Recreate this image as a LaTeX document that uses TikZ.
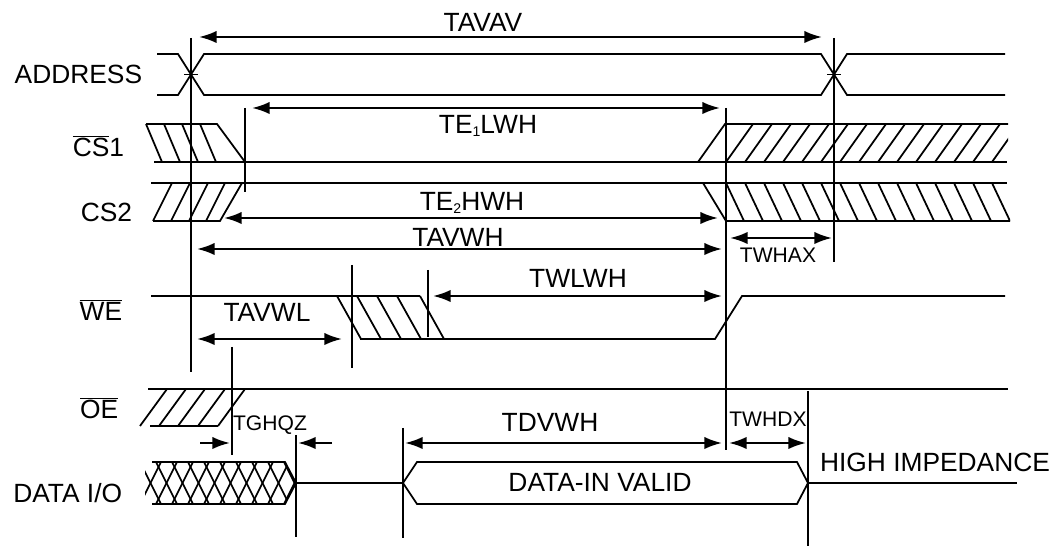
\documentclass[tikz,border=0pt]{standalone}
\usepackage{fontspec}
\setmainfont{Liberation Sans}
\usetikzlibrary{arrows.meta}
\newcommand{\tsub}[1]{\raisebox{-1.5pt}{\fontsize{8}{8}\selectfont #1}}
\begin{document}
\begin{tikzpicture}[>={Latex[length=10pt,width=7pt]}, x=0.02cm, y=-0.02cm, line width=1pt,
    lbl/.style={inner sep=0pt, font=\fontsize{15}{18}\selectfont},
    sml/.style={inner sep=0pt, font=\fontsize{12}{14}\selectfont},
    dim/.style={line width=1.3pt}]
\useasboundingbox (0,0) rectangle (1061,546);
% signal names
\node[lbl, anchor=east] (addr) at (143,74) {ADDRESS};
\node[lbl, anchor=east] (cs1) at (125,146) {$\overline{\mbox{CS}}$1};
\node[lbl, anchor=east] (cs2) at (133,212) {CS2};
\node[lbl, anchor=east] (we) at (123,310) {$\overline{\mbox{WE}}$};
\node[lbl, anchor=east] (oe) at (119,408) {$\overline{\mbox{OE}}$};
\node[lbl, anchor=east] (dio) at (123,493) {DATA I/O};
% ADDRESS
\draw (157,54)--(178,54)--(204,95)--(821,95)--(847,54)--(1005,54);
\draw (157,95)--(178,95)--(204,54)--(821,54)--(847,95)--(1005,95);
\draw (184,74.5)--(198,74.5) (827,74.5)--(841,74.5);
% CS1
\draw (146,124)--(217,124)--(245,162);
\foreach \x in {146,164,182,200} \draw (\x,124)--++(16,38);
\draw (154,162)--(1007,162);
\draw (698,162)--(725,124)--(1008,124);
\begin{scope}
\clip (725,124) rectangle (1008,162);
\foreach \x in {726,745,...,1000} \draw (\x,162)--++(27,-38);
\end{scope}
% CS2
\draw (151,183)--(1007,183);
\draw (703,183)--(726,221)--(1010,221);
\draw (153,221)--(220,221)--(242,183);
\foreach \x in {153,171,189,206} \draw (\x,221)--++(19,-38);
\begin{scope}
\clip (726,183) rectangle (1010,221);
\foreach \x in {726,745,...,1000} \draw (\x,183)--++(18,38);
\end{scope}
% WE
\draw (151,296)--(420,296);
\draw (360,339)--(715,339)--(742,296)--(1005,296);
\foreach \x in {337,357,377,397,420} \draw (\x,296)--++(24,43);
% OE
\draw (148,389)--(1008,389);
\draw (150,426)--(218,426);
\foreach \x in {140,159,178,198,218} \draw (\x,426)--++(27,-37);
% DATA I/O
\begin{scope}
\clip (145,462)--(285,462)--(296,483)--(285,504)--(145,504)--cycle;
\foreach \x in {140,156,...,300}
{
    \draw (\x,462)--++(21,42);
    \draw (\x,504)--++(21,-42);
}
\end{scope}
\draw (152,462)--(285,462)--(296,483)--(285,504)--(152,504);
\draw (296,483)--(403,483);
\draw (403,483)--(417,462)--(797,462)--(808,483)--(797,504)--(417,504)--cycle;
\draw (808,483)--(1017,483);
% time marks
\foreach \x/\ya/\yb in {191/38/372, 834/38/262, 245/108/192, 726/108/450, 352/265/368,
    428/270/337, 232/347/455, 296/435/537, 403/428/538, 808/391/546}
    \draw (\x,\ya)--(\x,\yb);
% timings
\draw[dim, <->] (199,37)--(822,37);
\draw[dim, <->] (252,108)--(720,108);
\draw[dim, <->] (224,218)--(718,218);
\draw[dim, <->] (197,249)--(722,249);
\draw[dim, <->] (730,238)--(832,238);
\draw[dim, <->] (433,296)--(722,296);
\draw[dim, <->] (197,339)--(342,339);
\draw[dim, ->] (200,443)--(230,443);
\draw[dim, ->] (332,443)--(298,443);
\draw[dim, <->] (405,443)--(722,443);
\draw[dim, <->] (729,443)--(806,443);
\node[lbl] (tavav) at (483,22) {TAVAV};
\node[lbl] (te1lwh) at (488,126) {TE\tsub{1}LWH};
\node[lbl] (te2hwh) at (472,203) {TE\tsub{2}HWH};
\node[lbl] (tavwh) at (458,237) {TAVWH};
\node[sml] (twhax) at (778,255) {TWHAX};
\node[lbl] (twlwh) at (578,278) {TWLWH};
\node[lbl] (tavwl) at (267,312) {TAVWL};
\node[sml] (tghqz) at (270,425) {TGHQZ};
\node[lbl] (tdvwh) at (550,422) {TDVWH};
\node[sml] (twhdx) at (768,419) {TWHDX};
\node[lbl] (din) at (600,482) {DATA-IN VALID};
\node[lbl] (hiz) at (935,462) {HIGH IMPEDANCE};
\end{tikzpicture}
\end{document}
